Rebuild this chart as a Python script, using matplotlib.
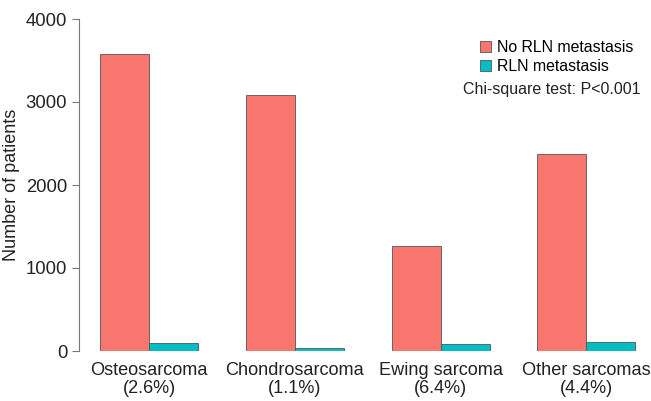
import numpy as np
import matplotlib.pyplot as plt
from matplotlib.patches import Patch

plt.rcParams['font.family'] = ['Liberation Sans', 'DejaVu Sans']

categories = ['Osteosarcoma\n(2.6%)', 'Chondrosarcoma\n(1.1%)', 'Ewing sarcoma\n(6.4%)', 'Other sarcomas\n(4.4%)']
no_rln = [3578, 3084, 1265, 2373]
rln = [95, 34, 86, 109]

red = '#F8766D'
teal = '#00BFC4'

fig = plt.figure(figsize=(6.51, 4.01), dpi=100)
ax = fig.add_axes([79 / 651, 50 / 401, 557 / 651, 332 / 401])

x = np.arange(len(categories))
w = 0.336
ax.bar(x - w / 2, no_rln, width=w, color=red, edgecolor='#555555', linewidth=0.6)
ax.bar(x + w / 2, rln, width=w, color=teal, edgecolor='#555555', linewidth=0.6)

ax.set_xlim(-0.48, 3.34)
ax.set_ylim(0, 4000)
ax.set_yticks([0, 1000, 2000, 3000, 4000])
ax.set_xticks(x)
ax.set_xticklabels(categories, fontsize=13.1, color='#222222', linespacing=1.05)
ax.tick_params(axis='x', length=0, pad=8)
ax.tick_params(axis='y', labelsize=13.3, colors='#222222', length=5, width=0.8, color='#777777')
for s in ['top', 'right', 'bottom']:
    ax.spines[s].set_visible(False)
ax.spines['left'].set_color('#777777')
ax.spines['left'].set_linewidth(0.8)
ax.set_ylabel('Number of patients', fontsize=13, color='#222222', labelpad=4)

handles = [Patch(facecolor=red, edgecolor='#555555', linewidth=0.6, label='No RLN metastasis'),
           Patch(facecolor=teal, edgecolor='#555555', linewidth=0.6, label='RLN metastasis')]
ax.legend(handles=handles, loc='upper left', bbox_to_anchor=(0.72, 0.936), frameon=False,
          fontsize=11.4, handlelength=0.72, handleheight=0.72, handletextpad=0.32, labelspacing=0.22,
          borderaxespad=0, borderpad=0)
ax.text(1.008, 0.787, 'Chi-square test: P<0.001', transform=ax.transAxes, ha='right', va='center',
        fontsize=11.5, color='#222222')

plt.savefig('out.png', dpi=100)
